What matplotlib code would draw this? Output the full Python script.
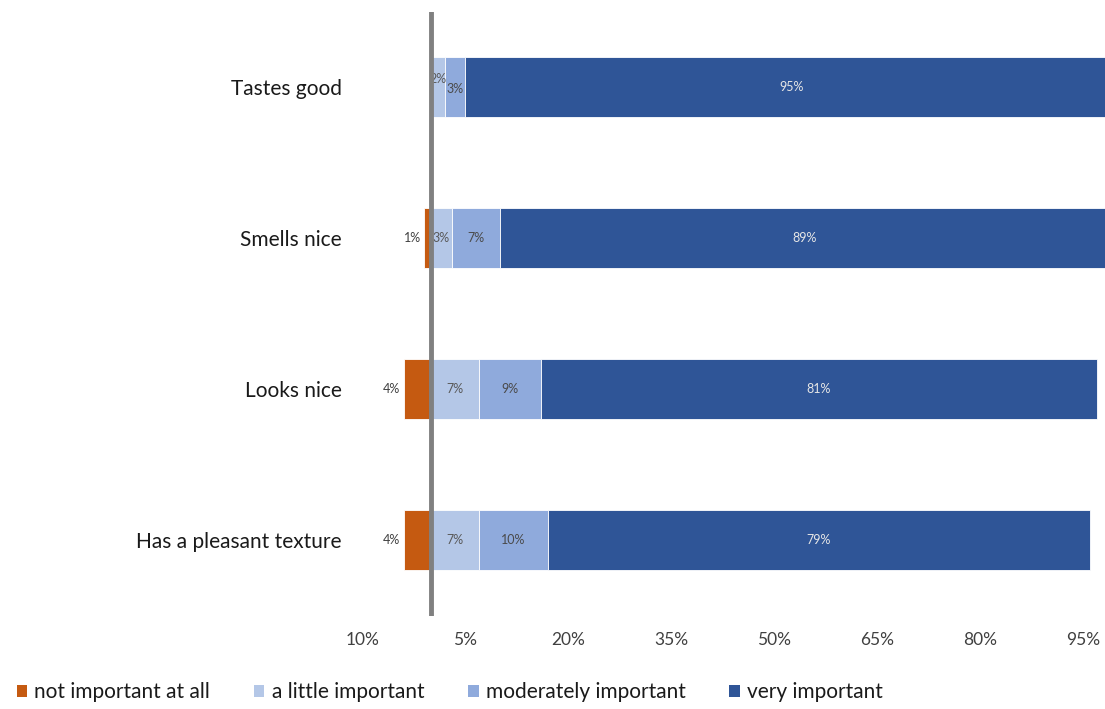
import matplotlib.pyplot as plt
from matplotlib.patches import Patch

plt.rcParams['font.family'] = ['Lato', 'DejaVu Sans']

categories = ["Tastes good", "Smells nice", "Looks nice", "Has a pleasant texture"]
series_names = ["not important at all", "a little important",
                "moderately important", "very important"]
not_important = [0, 1, 4, 4]
little = [2, 3, 7, 7]
moderate = [3, 7, 9, 10]
very = [95, 89, 81, 79]
tick_values = [-10, 5, 20, 35, 50, 65, 80, 95]
tick_labels = ["10%", "5%", "20%", "35%", "50%", "65%", "80%", "95%"]

colors = ["#C55A11", "#B4C7E7", "#8FAADC", "#2F5597"]
label_colors = ["#404040", "#595959", "#4a4a4a", "#E6E6E6"]

fig = plt.figure(figsize=(11.05, 7.09), dpi=100)
ax = fig.add_axes([0.3217, 1 - 615.5 / 709, 1 - 0.3217, 604 / 709])

y = list(range(len(categories)))
bar_h = 0.4

for i, cat in enumerate(categories):
    # negative side
    v0 = not_important[i]
    if v0 > 0:
        ax.barh(i, -v0, left=0, height=bar_h, color=colors[0],
                edgecolor="white", linewidth=0.6)
        ax.text(-v0 - 0.5, i, f"{v0}%", ha="right", va="center",
                fontsize=9, color=label_colors[0])
    # positive side
    left = 0
    vals = [little[i], moderate[i], very[i]]
    prev_narrow = False
    for k, v in enumerate(vals, start=1):
        ax.barh(i, v, left=left, height=bar_h, color=colors[k],
                edgecolor="white", linewidth=0.6)
        dy = 0.0
        if v < 2.5:
            dy = -0.05
            prev_narrow = True
        elif prev_narrow:
            dy = 0.015
            prev_narrow = False
        cx = left + v / 2
        ax.text(cx, i + dy, f"{v}%", ha="center", va="center",
                fontsize=9, color=label_colors[k])
        left += v

ax.axvline(0, color="#808080", linewidth=3.5, zorder=5)

ax.set_xlim(-11, 98.2)
ax.set_ylim(len(categories) - 0.5, -0.5)
ax.set_yticks(y)
ax.set_yticklabels(categories, fontsize=15, color="#1a1a1a")
ax.set_xticks(tick_values)
ax.set_xticklabels(tick_labels, fontsize=12.5, color="#404040")
ax.tick_params(axis="both", length=0)
ax.tick_params(axis="x", pad=12)
ax.tick_params(axis="y", pad=10)
for s in ax.spines.values():
    s.set_visible(False)

handles = [Patch(facecolor=c, edgecolor="none") for c in colors]
fig.legend(handles, series_names, loc="center left",
           bbox_to_anchor=(0.0, 1 - 692 / 709), ncol=4, frameon=False,
           fontsize=15, handlelength=0.5, handleheight=0.5,
           handletextpad=0.35, columnspacing=2.1, labelcolor="#1a1a1a",
           borderpad=0.3)

fig.savefig("out.png", dpi=100)
